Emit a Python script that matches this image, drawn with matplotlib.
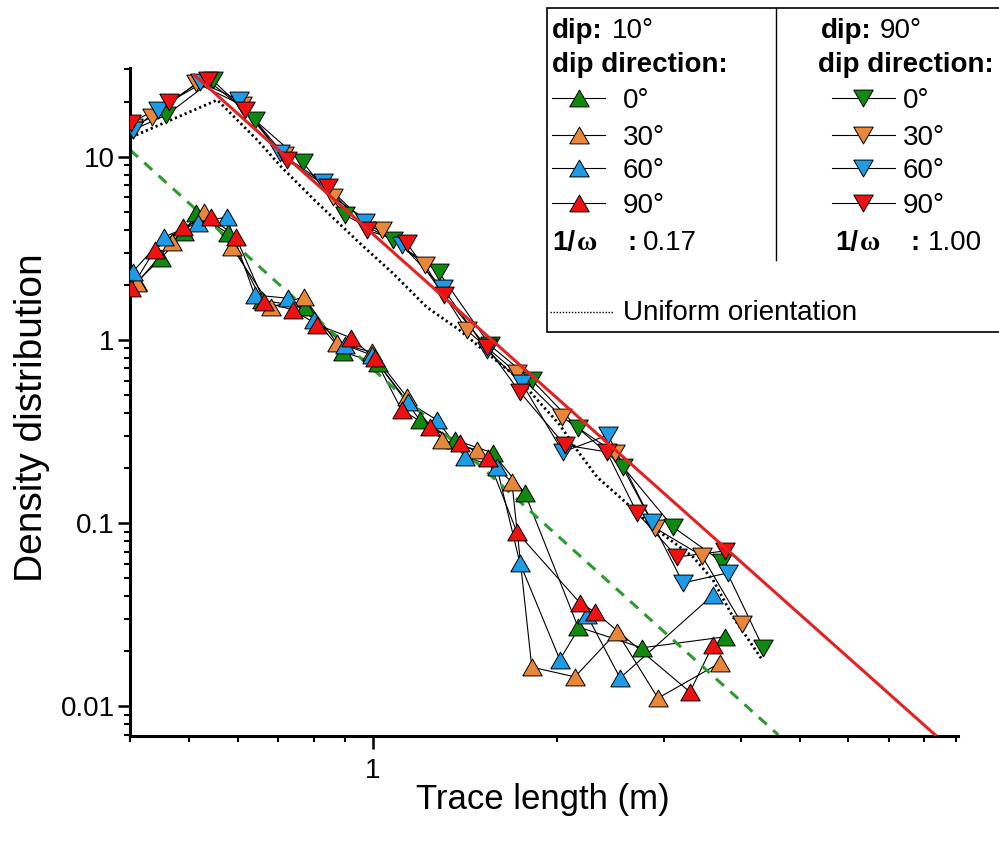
import matplotlib.pyplot as plt
from matplotlib.patches import Rectangle
from matplotlib.ticker import FuncFormatter, NullFormatter

plt.rcParams['font.family'] = ['Liberation Sans', 'DejaVu Sans']

# dip 10 deg (upward triangles), one pair of lists per dip direction
d10_x_dd0 = [0.410, 0.450, 0.491, 0.514, 0.578, 0.657, 0.773, 0.892, 1.018, 1.193, 1.361, 1.571, 1.773, 2.166, 2.757, 3.773]
d10_y_dd0 = [2.07, 2.80, 3.88, 4.93, 3.83, 1.65, 1.51, 0.860, 0.749, 0.366, 0.285, 0.242, 0.146, 0.0272, 0.0209, 0.0240]

d10_x_dd30 = [0.411, 0.468, 0.528, 0.587, 0.682, 0.770, 0.872, 0.995, 1.136, 1.296, 1.479, 1.688, 1.820, 2.141, 2.509, 2.929, 3.702]
d10_y_dd30 = [2.05, 3.42, 4.99, 3.22, 1.51, 1.72, 0.963, 0.860, 0.489, 0.285, 0.251, 0.168, 0.0164, 0.0145, 0.0255, 0.0111, 0.0173]

d10_x_dd60 = [0.404, 0.455, 0.516, 0.576, 0.640, 0.725, 0.802, 0.899, 0.995, 1.140, 1.272, 1.414, 1.595, 1.740, 2.023, 2.240, 2.539, 3.605]
d10_y_dd60 = [2.35, 3.65, 4.35, 4.69, 1.76, 1.69, 1.29, 0.939, 0.828, 0.459, 0.366, 0.230, 0.203, 0.0607, 0.0180, 0.0316, 0.0143, 0.0406]

d10_x_dd90 = [0.402, 0.439, 0.488, 0.542, 0.596, 0.664, 0.739, 0.811, 0.919, 1.006, 1.114, 1.239, 1.387, 1.542, 1.720, 2.183, 2.309, 3.304, 3.605]
d10_y_dd90 = [1.92, 3.10, 4.14, 4.69, 3.65, 1.61, 1.46, 1.21, 1.03, 0.798, 0.415, 0.335, 0.274, 0.227, 0.0896, 0.0367, 0.0328, 0.0120, 0.0217]

# dip 90 deg (downward triangles)
d90_x_dd0 = [0.404, 0.459, 0.546, 0.640, 0.767, 0.899, 1.077, 1.281, 1.553, 1.820, 2.166, 2.567, 3.100, 3.730, 4.355]
d90_y_dd0 = [14.0, 16.9, 26.2, 15.9, 9.36, 4.81, 3.51, 2.35, 0.939, 0.605, 0.331, 0.203, 0.0954, 0.0615, 0.0209]

d90_x_dd30 = [0.404, 0.434, 0.514, 0.611, 0.716, 0.859, 1.033, 1.216, 1.424, 1.720, 2.039, 2.490, 2.896, 3.458, 4.022]
d90_y_dd30 = [14.5, 16.5, 25.2, 19.1, 10.2, 6.03, 3.98, 2.57, 1.13, 0.661, 0.380, 0.242, 0.0943, 0.0663, 0.0282]

d90_x_dd60 = [0.404, 0.444, 0.520, 0.604, 0.703, 0.827, 0.969, 1.114, 1.301, 1.536, 1.753, 2.046, 2.426, 2.863, 3.219, 3.815]
d90_y_dd60 = [14.0, 18.0, 25.6, 20.4, 10.5, 7.28, 4.40, 3.30, 1.92, 0.882, 0.582, 0.245, 0.303, 0.1016, 0.0472, 0.0536]

d90_x_dd90 = [0.402, 0.464, 0.536, 0.616, 0.722, 0.843, 0.976, 1.136, 1.306, 1.536, 1.740, 2.062, 2.415, 2.706, 3.148, 3.773]
d90_y_dd90 = [15.3, 19.9, 26.2, 18.0, 9.6, 6.84, 3.98, 3.38, 1.76, 0.916, 0.520, 0.267, 0.245, 0.114, 0.0655, 0.0706]

# uniform orientation reference curve
uni_x = [0.402, 0.459, 0.556, 0.647, 0.708, 0.802, 0.951, 1.077, 1.225, 1.387, 1.536, 1.720, 2.023, 2.158, 2.327, 2.567, 2.874, 3.343, 3.605, 3.887, 4.338]
uni_y = [12.8, 15.5, 20.4, 12.3, 8.79, 5.80, 3.38, 2.32, 1.51, 1.13, 0.849, 0.628, 0.344, 0.251, 0.179, 0.134, 0.0955, 0.0655, 0.049, 0.0308, 0.0180]

# power law guide lines (end points)
red_fit_x = [0.51, 8.33]
red_fit_y = [27.9, 0.0070]
green_fit_x = [0.40, 4.61]
green_fit_y = [10.9, 0.0070]

dd_labels = ['0°', '30°', '60°', '90°']
dd_colors = ['#0F8A0F', '#E8873A', '#1E9BE6', '#EE1111']

tri_up = [(-1, -0.866), (1, -0.866), (0, 0.866), (-1, -0.866)]
tri_dn = [(-1, 0.866), (1, 0.866), (0, -0.866), (-1, 0.866)]

series = [
    (d10_x_dd0, d10_y_dd0, 0, tri_up), (d10_x_dd30, d10_y_dd30, 1, tri_up),
    (d10_x_dd60, d10_y_dd60, 2, tri_up), (d10_x_dd90, d10_y_dd90, 3, tri_up),
    (d90_x_dd0, d90_y_dd0, 0, tri_dn), (d90_x_dd30, d90_y_dd30, 1, tri_dn),
    (d90_x_dd60, d90_y_dd60, 2, tri_dn), (d90_x_dd90, d90_y_dd90, 3, tri_dn),
]

ms = 14

fig = plt.figure(figsize=(9.99, 8.43), dpi=100)
ax = fig.add_axes([130 / 999, 1 - 736 / 843, 828 / 999, 668 / 843])
ax.set_xscale('log')
ax.set_yscale('log')

for xs, ys, k, mk in series:
    ax.plot(xs, ys, color='black', lw=0.8, zorder=2)
ax.plot(uni_x, uni_y, color='black', lw=2.0, ls=(0, (0.8, 1.1)), zorder=2.5)
ax.plot(green_fit_x, green_fit_y, color='#2E9B2E', lw=2.2, ls=(0, (3.5, 2.8)), zorder=2.5)
for xs, ys, k, mk in series:
    ax.plot(xs, ys, ls='none', marker=mk, ms=ms, mfc=dd_colors[k],
            mec='black', mew=0.7, zorder=3)
ax.plot(red_fit_x, red_fit_y, color='#E32222', lw=2.2, zorder=4)

ax.set_xlim(0.4, 9.08)
ax.set_ylim(0.0069, 30.5)

for s in ['top', 'right']:
    ax.spines[s].set_visible(False)
for s in ['left', 'bottom']:
    ax.spines[s].set_linewidth(2.2)

fmt = FuncFormatter(lambda v, p: f'{v:g}')
ax.xaxis.set_major_formatter(fmt)
ax.yaxis.set_major_formatter(fmt)
ax.xaxis.set_minor_formatter(NullFormatter())
ax.yaxis.set_minor_formatter(NullFormatter())
ax.tick_params(which='major', length=9, width=1.8, labelsize=20)
ax.tick_params(which='minor', length=4.5, width=1.5)
ax.tick_params(axis='x', which='major', pad=7)
ax.tick_params(axis='y', which='major', pad=2)

fig.text(543 / 999, 1 - 800 / 843, 'Trace length (m)', fontsize=25, ha='center', va='center')
fig.text(32 / 999, 1 - 418 / 843, 'Density distribution', fontsize=28, rotation=90,
         ha='center', va='center')

# legend drawn in pixel coordinates on an overlay
lg = fig.add_axes([0, 0, 1, 1], zorder=5)
lg.set_xlim(0, 999)
lg.set_ylim(843, 0)
lg.axis('off')
lg.add_patch(Rectangle((547, 8), 480, 324, fc='white', ec='black', lw=1.2))
lg.plot([776, 776], [8, 260], color='black', lw=1.0)

fs = 20
lg.text(552, 38, 'dip:', fontsize=fs, fontweight='bold')
lg.text(612, 38, '10°', fontsize=fs)
lg.text(552, 72, 'dip direction:', fontsize=fs, fontweight='bold')
lg.text(821, 38, 'dip:', fontsize=fs, fontweight='bold')
lg.text(880, 38, '90°', fontsize=fs)
lg.text(818, 72, 'dip direction:', fontsize=fs, fontweight='bold')

row_y = [98, 135, 168, 203]
for i, yy in enumerate(row_y):
    lg.plot([552, 605], [yy, yy], color='black', lw=0.8)
    lg.plot([579], [yy], ls='none', marker=tri_up, ms=ms, mfc=dd_colors[i], mec='black', mew=0.7)
    lg.text(623, yy + 10, dd_labels[i], fontsize=fs)
    lg.plot([832, 895], [yy, yy], color='black', lw=0.8)
    lg.plot([863], [yy], ls='none', marker=tri_dn, ms=ms, mfc=dd_colors[i], mec='black', mew=0.7)
    lg.text(903, yy + 10, dd_labels[i], fontsize=fs)

lg.text(552, 250, '1/', fontsize=fs, fontweight='bold')
lg.text(577, 250, 'ω', fontsize=fs, fontweight='bold', family=['Liberation Serif', 'DejaVu Serif'])
lg.text(627, 250, ':', fontsize=fs, fontweight='bold')
lg.text(643, 250, '0.17', fontsize=fs)
lg.text(835, 250, '1/', fontsize=fs, fontweight='bold')
lg.text(860, 250, 'ω', fontsize=fs, fontweight='bold', family=['Liberation Serif', 'DejaVu Serif'])
lg.text(910, 250, ':', fontsize=fs, fontweight='bold')
lg.text(928, 250, '1.00', fontsize=fs)

lg.plot([550, 613], [312, 312], color='black', lw=1.0, ls=(0, (1, 1.2)))
lg.text(623, 320, 'Uniform orientation', fontsize=fs)

fig.savefig('out.png', dpi=100)
